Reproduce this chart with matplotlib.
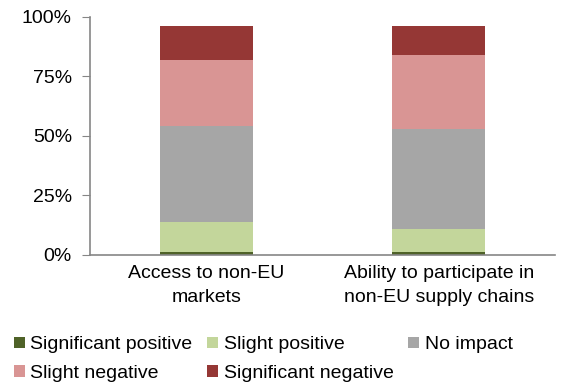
import numpy as np
import matplotlib.pyplot as plt

plt.rcParams['font.family'] = ['Liberation Sans', 'DejaVu Sans']

categories = ['Access to non-EU\nmarkets', 'Ability to participate in\nnon-EU supply chains']
sig_pos = [1, 1]
slight_pos = [13, 10]
no_impact = [40, 42]
slight_neg = [28, 31]
sig_neg = [14, 12]

labels = ['Significant positive', 'Slight positive', 'No impact',
          'Slight negative', 'Significant negative']
colors = ['#4f6228', '#c3d69b', '#a6a6a6', '#d99594', '#953735']

fig = plt.figure(figsize=(5.88, 3.85), dpi=100)
ax = fig.add_axes([0.153, 0.338, 0.791, 0.618])

x = np.arange(len(categories))
bottom = np.zeros(len(categories))
handles = []
for vals, lab, col in zip([sig_pos, slight_pos, no_impact, slight_neg, sig_neg], labels, colors):
    v = np.array(vals) / 100.0
    b = ax.bar(x, v, 0.4, bottom=bottom, color=col, label=lab, edgecolor='none')
    handles.append(b)
    bottom += v

ax.set_xlim(-0.5, 1.5)
ax.set_ylim(0, 1)
ax.set_yticks([0, 0.25, 0.5, 0.75, 1.0])
ax.set_yticklabels(['0%', '25%', '50%', '75%', '100%'], fontsize=14)
ax.set_xticks(x)
ax.set_xticklabels(categories, fontsize=14, linespacing=1.55)
ax.tick_params(axis='x', length=0, pad=7)
ax.tick_params(axis='y', length=6, color='#868686', pad=7)

for s in ['top', 'right']:
    ax.spines[s].set_visible(False)
for s in ['left', 'bottom']:
    ax.spines[s].set_color('#868686')
    ax.spines[s].set_linewidth(1.2)

# reorder so the legend reads row by row
order = [0, 3, 1, 4, 2]
fig.legend([handles[i] for i in order], [labels[i] for i in order],
           ncol=3, loc='lower left', bbox_to_anchor=(-0.006, -0.038),
           frameon=False, fontsize=14, handlelength=0.55, handleheight=0.55,
           handletextpad=0.3, columnspacing=0.75, labelspacing=0.6)

fig.savefig('out.png', dpi=100)
